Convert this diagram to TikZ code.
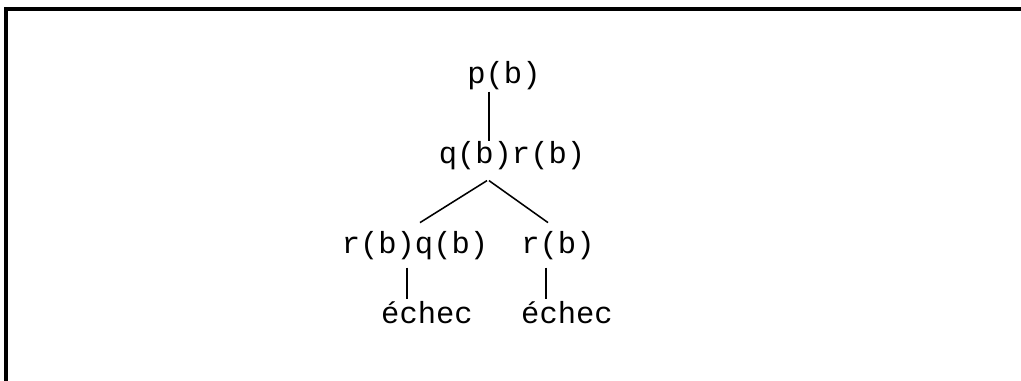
\documentclass[tikz,border=0pt]{standalone}
\usepackage{fontspec}
\newfontfamily\mono{Liberation Mono}
\usepackage{tikz}
\usetikzlibrary{calc}

\begin{document}
\begin{tikzpicture}[
  x=0.025cm, y=-0.025cm,
  term/.style={inner sep=0pt,anchor=base,font=\mono\fontsize{21.7}{26}\selectfont},
  branch/.style={line width=1.1pt},
  frame/.style={line width=2.2pt}
]
\useasboundingbox (0,0) rectangle (1021,381);
\draw[frame] (6,381) -- (6,9) -- (1021,9);
\node[term] (pb) at (504,83) {p(b)};
\node[term] (qr) at (512,163) {q(b)r(b)};
\node[term] (rq) at (415,253) {r(b)q(b)};
\node[term] (rr) at (558,253) {r(b)};
\node[term] (fail1) at (427,323) {échec};
\node[term] (fail2) at (567,323) {échec};
\draw[branch] ($(pb.south)+(-15,2)$) -- ($(qr.north)+(-23,0)$);
\draw[branch] ($(qr.south)+(-25,11)$) -- ($(rq.north)+(5,-8)$);
\draw[branch] ($(qr.south)+(-23,11)$) -- ($(rr.north)+(-10,-8)$);
\draw[branch] ($(rq.south)+(-8,8)$) -- ($(fail1.north)+(-20,-2)$);
\draw[branch] ($(rr.south)+(-12,8)$) -- ($(fail2.north)+(-21,-2)$);
\end{tikzpicture}
\end{document}
